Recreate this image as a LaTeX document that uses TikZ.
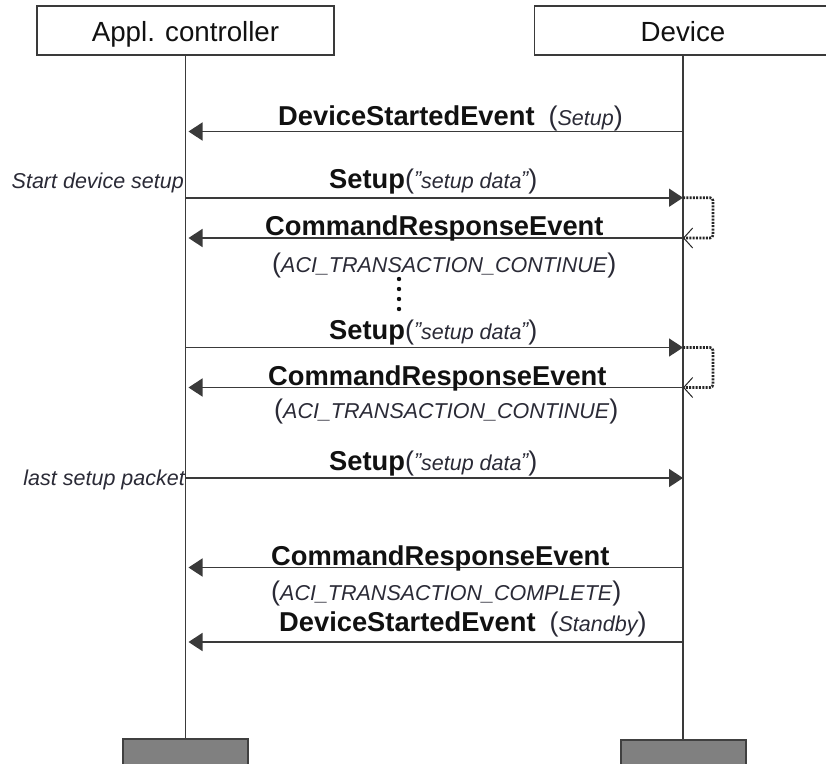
\documentclass[tikz,border=0pt]{standalone}
\usepackage{fontspec}
\setmainfont{Liberation Sans}
\usetikzlibrary{arrows.meta}
\definecolor{ln}{HTML}{3a3a3a}
\definecolor{tx}{HTML}{111111}
\definecolor{itc}{HTML}{2a2a36}
\definecolor{boxgray}{HTML}{808080}
\newcommand\msgname[1]{{\fontsize{27.3}{30}\selectfont\bfseries #1}}
\newcommand\argtxt[1]{{\fontsize{21.5}{24}\selectfont\itshape\color{itc}#1}}
\newcommand\parn[1]{{\fontsize{27}{30}\selectfont\color{itc}#1}}
\newcommand\setupdata{\argtxt{\raisebox{1.5pt}{”}setup data\kern-0.5pt\raisebox{1.5pt}{”}}}
\tikzset{
  lifebox/.style={draw=ln, line width=1.5pt, fill=white, minimum width=297pt, minimum height=49pt, inner sep=0pt, text height=22.8pt, text depth=0pt, font=\fontsize{27.7}{30}\selectfont, text=tx},
  endbox/.style={draw=black!75, line width=2pt, fill=boxgray, minimum width=125pt, minimum height=40pt, inner sep=0pt},
  lifeline/.style={draw=ln, line width=1.6pt},
  msg/.style={draw=ln, line width=1.6pt, -{Triangle[length=14pt,width=18pt]}},
  msgback/.style={msg, shorten >=3pt},
  selfloop/.style={draw=black!85, line width=2.6pt, dash pattern=on 2pt off 1.3pt, rounded corners=3pt, -{Straight Barb[length=9pt,width=20pt,line width=1pt]}},
  lbl/.style={inner sep=0pt, anchor=base west, text=tx},
  side/.style={inner sep=0pt, anchor=base east, font=\fontsize{21.5}{24}\selectfont\itshape, text=itc}
}
\begin{document}
\begin{tikzpicture}[x=1pt,y=-1pt]
\useasboundingbox (0,0) rectangle (826,763);
\clip (0,0) rectangle (826,763);

% participants
\node[lifebox] (ctrl) at (185.5,30.3) {Appl. controller};
\node[lifebox] (dev) at (683,30.3) {Device};
\node[endbox] (ctrlend) at (185.5,759) {};
\node[endbox] (devend) at (683,760) {};
\draw[lifeline] (ctrl.south) -- (ctrlend.north);
\draw[lifeline] (dev.south) -- (devend.north);

% message anchor points on lifelines
\foreach \n/\y in {1/131.5, 2/197.7, 3/238, 4/347.5, 5/387.5, 6/478, 7/567.5, 8/642}{
  \coordinate (c\n) at (185.5,\y);
  \coordinate (d\n) at (683,\y);
}
\coordinate (k2) at (713,197.7);
\coordinate (k3) at (713,238);
\coordinate (k4) at (713,347.5);
\coordinate (k5) at (713,387.5);

% messages
\draw[msgback] (d1) -- (c1);
\draw[msg] (c2) -- (d2);
\draw[msgback] (d3) -- (c3);
\draw[selfloop] (d2) -- (k2) -- (k3) -- (d3);
\draw[msg] (c4) -- (d4);
\draw[msgback] (d5) -- (c5);
\draw[selfloop] (d4) -- (k4) -- (k5) -- (d5);
\draw[msg] (c6) -- (d6);
\draw[msgback] (d7) -- (c7);
\draw[msgback] (d8) -- (c8);

% labels
\node[lbl] (t1) at (278,125) {\msgname{DeviceStartedEvent}\hspace{14pt}\parn{(}\argtxt{Setup}\parn{)}};
\node[lbl] (t2) at (329,188) {\msgname{Setup}\parn{(}\setupdata\parn{)}};
\node[lbl] (t3) at (265,235) {\msgname{CommandResponseEvent}};
\node[lbl] (t4) at (272,272) {\parn{(}\argtxt{ACI\_TRANSACTION\_CONTINUE}\parn{)}};
\node[lbl] (t5) at (329,339) {\msgname{Setup}\parn{(}\setupdata\parn{)}};
\node[lbl] (t6) at (268,385) {\msgname{CommandResponseEvent}};
\node[lbl] (t7) at (274,418) {\parn{(}\argtxt{ACI\_TRANSACTION\_CONTINUE}\parn{)}};
\node[lbl] (t8) at (329,470) {\msgname{Setup}\parn{(}\setupdata\parn{)}};
\node[lbl] (t9) at (271,565) {\msgname{CommandResponseEvent}};
\node[lbl] (t10) at (271,600) {\parn{(}\argtxt{ACI\_TRANSACTION\_COMPLETE}\parn{)}};
\node[lbl] (t11) at (279,631) {\msgname{DeviceStartedEvent}\hspace{14pt}\parn{(}\argtxt{Standby}\parn{)}};

\node[side] (s1) at (184,188) {Start device setup};
\node[side] (s2) at (185,485) {last setup packet};

% continuation dots
\foreach \y in {279,289,299,309}{\fill[tx] (399,\y) circle (2.2);}
\end{tikzpicture}
\end{document}
